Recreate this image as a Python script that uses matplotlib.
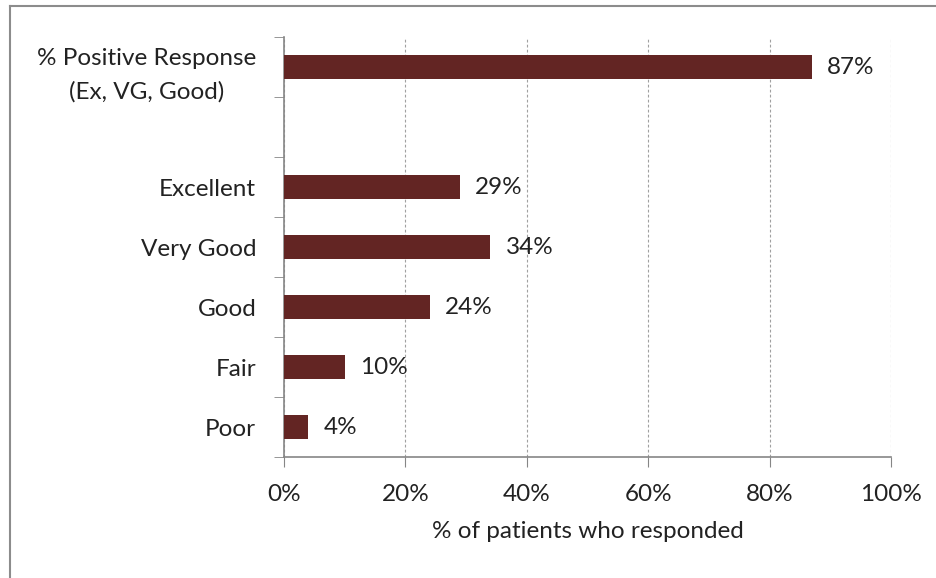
import matplotlib
matplotlib.use("Agg")
import matplotlib.pyplot as plt
import numpy as np

plt.rcParams['font.family'] = ['Lato', 'DejaVu Sans']

# categories from top to bottom ('' is the empty gap row)
categories = ['% Positive Response\n(Ex, VG, Good)', '', 'Excellent', 'Very Good', 'Good', 'Fair', 'Poor']
values = [87, None, 29, 34, 24, 10, 4]
x_ticks = [0, 20, 40, 60, 80, 100]
x_tick_labels = ['0%', '20%', '40%', '60%', '80%', '100%']

bar_color = '#632523'
axis_color = '#868686'
text_color = '#222222'
fs = 17.5

fig = plt.figure(figsize=(9.37, 5.78), dpi=100)
ax = fig.add_axes([0.303, 0.209, 0.648, 0.727])

n = len(categories)
ypos = np.arange(n)
for y, v in zip(ypos, values):
    if v is None:
        continue
    ax.barh(y, v, height=0.4, color=bar_color, zorder=3)
    ax.text(v + 2.5, y, '%d%%' % v, va='center', ha='left', fontsize=fs, color=text_color)

ax.set_xlim(0, 100)
ax.set_ylim(n - 0.5, -0.5)

ax.set_xticks(x_ticks)
ax.set_xticklabels(x_tick_labels, fontsize=fs, color=text_color)
ax.set_yticks(ypos)
ax.set_yticklabels(categories, fontsize=fs, color=text_color)
for lab in ax.get_yticklabels():
    lab.set_multialignment('center')
    lab.set_linespacing(1.7)
ax.set_yticks(np.arange(-0.5, n, 1), minor=True)
ax.tick_params(axis='y', which='major', length=0, pad=20)
ax.tick_params(axis='y', which='minor', length=7, color=axis_color, direction='out')
ax.tick_params(axis='x', length=7, color=axis_color, direction='out', pad=12)

ax.grid(axis='x', linestyle=(0, (2.5, 2)), color='#a0a0a0', linewidth=0.8, zorder=0)

for s in ['top', 'right']:
    ax.spines[s].set_visible(False)
for s in ['left', 'bottom']:
    ax.spines[s].set_color(axis_color)
    ax.spines[s].set_linewidth(1.2)

ax.set_xlabel('% of patients who responded', fontsize=fs, color=text_color, labelpad=12)

# chart area border (top and left visible, cut at right/bottom)
fig.add_artist(plt.Line2D([0.011, 1.0], [0.99, 0.99], transform=fig.transFigure, color='#8c8c8c', linewidth=1.5))
fig.add_artist(plt.Line2D([0.011, 0.011], [0.0, 0.99], transform=fig.transFigure, color='#8c8c8c', linewidth=1.5))

fig.savefig('out.png', dpi=100)
